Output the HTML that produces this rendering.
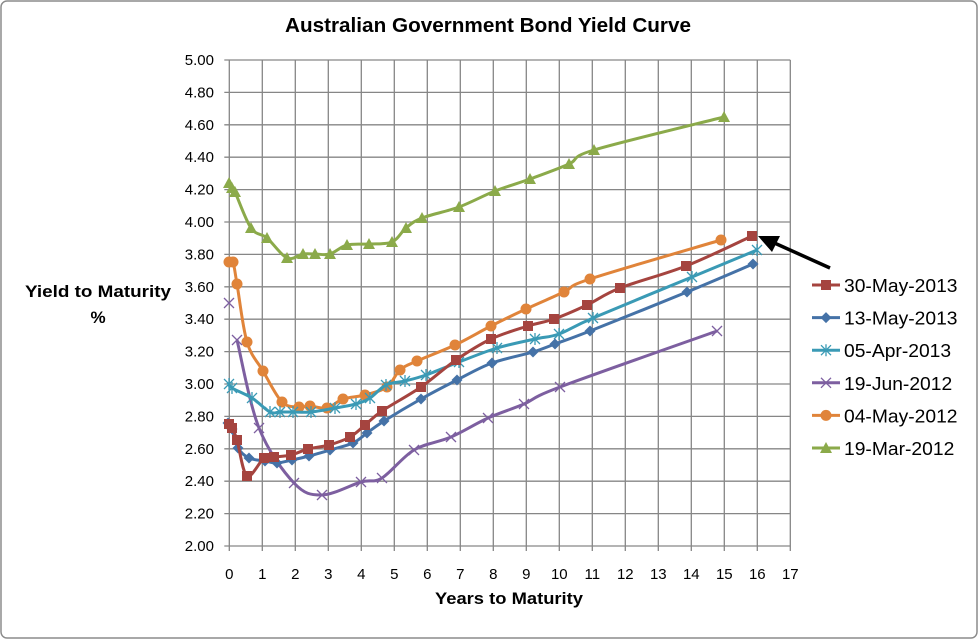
<!DOCTYPE html>
<html><head><meta charset="utf-8"><style>
body{margin:0;background:#fff;}
svg{display:block;font-family:"Liberation Sans",Arial,sans-serif;}
</style></head><body>
<svg id="s" width="979" height="640" viewBox="0 0 979 640" xmlns="http://www.w3.org/2000/svg">
<rect x="1" y="1" width="976" height="637" rx="6" fill="#fff" stroke="#8c8c8c" stroke-width="1.5"/>
<text x="488" y="32" text-anchor="middle" font-size="20" font-weight="bold" textLength="406" lengthAdjust="spacingAndGlyphs">Australian Government Bond Yield Curve</text>
<g id="grid"></g>
<g id="series"></g>
<text x="98" y="297" text-anchor="middle" font-size="17" font-weight="bold" textLength="146" lengthAdjust="spacingAndGlyphs">Yield to Maturity</text>
<text x="98" y="323" text-anchor="middle" font-size="17" font-weight="bold">%</text>
<text x="509" y="604" text-anchor="middle" font-size="17" font-weight="bold" textLength="148" lengthAdjust="spacingAndGlyphs">Years to Maturity</text>
<g id="legend"></g>
<line x1="830" y1="268" x2="770" y2="241" stroke="#000" stroke-width="3.5"/>
<polygon points="758,236 780,236 772,252" fill="#000"/>
</svg>
<script>
const NS="http://www.w3.org/2000/svg";
function el(t,a,p){const e=document.createElementNS(NS,t);for(const k in a)e.setAttribute(k,a[k]);p.appendChild(e);return e;}
const g=document.getElementById('grid');
const x0=229.3,dx=33,y0=546,dy=32.4;
for(let i=0;i<=17;i++){const x=x0+i*dx;el('line',{x1:x,y1:60,x2:x,y2:551,stroke:'#868686','stroke-width':1.3},g);
 const t=el('text',{x:x,y:579,'text-anchor':'middle','font-size':15},g);t.textContent=i;}
for(let j=0;j<=15;j++){const y=y0-j*dy;el('line',{x1:x0-5,y1:y,x2:x0+17*dx,y2:y,stroke:'#868686','stroke-width':1.3},g);
 const t=el('text',{x:214,y:y+5,'text-anchor':'end','font-size':15},g);t.textContent=(2+j*0.2).toFixed(2);}
const S=[
{n:'30-May-2013',c:'#A5443F',m:'sq',p:[[229,424],[232,428],[237,440],[247,476],[264,458],[274,457],[291,455],[308,449],[329,445],[350,437],[365,425],[382,411],[421,387],[456,360],[491,339],[528,326],[554,319],[587,305],[620,288],[686,266],[752,236]]},
{n:'13-May-2013',c:'#4572A7',m:'di',p:[[228,423],[232,429],[238,448],[249,458],[265,461],[277,463],[292,460],[309,456],[330,450],[353,443],[367,433],[384,421],[421,399],[457,380],[492,363],[533,352],[555,344],[590,331],[687,292],[753,264]]},
{n:'05-Apr-2013',c:'#3A9AB5',m:'as',p:[[229,384],[232,388],[252,398],[270,412],[280,412],[293,412],[311,412],[335,408],[356,404],[370,398],[386,385],[405,381],[426,375],[459,362],[497,348],[535,339],[559,334],[593,318],[692,277],[757,250]]},
{n:'19-Jun-2012',c:'#7D5FA0',m:'x',p:[[237,340],[259,428],[294,483],[322,495],[361,482],[382,478],[414,450],[451,437],[488,418],[524,404],[560,387],[717,331]],extra:[[229,303]]},
{n:'04-May-2012',c:'#E0843A',m:'ci',p:[[229,262],[233,262],[237,284],[247,342],[263,371],[282,402],[299,407],[310,406],[327,408],[343,399],[365,395],[387,387],[400,370],[417,361],[455,345],[491,326],[526,309],[564,292],[590,279],[721,240]]},
{n:'19-Mar-2012',c:'#8BAA4A',m:'tr',p:[[229,183],[232,188],[235,192],[251,228],[267,238],[287,258],[303,254],[315,254],[330,254],[347,245],[369,244],[392,242],[406,228],[422,218],[459,207],[495,191],[530,179],[569,164],[594,150],[724,117]]}
];
function path(p){let d='M'+p[0][0]+','+p[0][1];for(let i=0;i<p.length-1;i++){const a=p[Math.max(0,i-1)],b=p[i],c=p[i+1],e=p[Math.min(p.length-1,i+2)];const t=6;
 d+=` C${b[0]+(c[0]-a[0])/t},${b[1]+(c[1]-a[1])/t} ${c[0]-(e[0]-b[0])/t},${c[1]-(e[1]-b[1])/t} ${c[0]},${c[1]}`;}return d;}
function mk(m,x,y,c,par){
 if(m=='sq')el('rect',{x:x-5,y:y-5,width:10,height:10,fill:c},par);
 else if(m=='di')el('polygon',{points:`${x},${y-5.5} ${x+5.5},${y} ${x},${y+5.5} ${x-5.5},${y}`,fill:c},par);
 else if(m=='ci')el('circle',{cx:x,cy:y,r:5.5,fill:c},par);
 else if(m=='tr')el('polygon',{points:`${x},${y-6} ${x+6},${y+5} ${x-6},${y+5}`,fill:c},par);
 else if(m=='x'){el('path',{d:`M${x-5},${y-5}L${x+5},${y+5}M${x-5},${y+5}L${x+5},${y-5}`,stroke:c,'stroke-width':1.3},par);}
 else if(m=='as'){el('path',{d:`M${x-5},${y-5}L${x+5},${y+5}M${x-5},${y+5}L${x+5},${y-5}M${x},${y-6}L${x},${y+6}`,stroke:c,'stroke-width':1.3},par);}
}
const sg=document.getElementById('series'),lg=document.getElementById('legend');
S.slice().reverse().forEach(s=>{el('path',{d:path(s.p),fill:'none',stroke:s.c,'stroke-width':3},sg);
 s.p.forEach(q=>mk(s.m,q[0],q[1],s.c,sg));(s.extra||[]).forEach(q=>mk(s.m,q[0],q[1],s.c,sg));});
S.forEach((s,i)=>{const y=285+i*32.6;el('line',{x1:812,y1:y,x2:840,y2:y,stroke:s.c,'stroke-width':3},lg);mk(s.m,826,y,s.c,lg);
 const t=el('text',{x:844,y:y+7,'font-size':18},lg);t.textContent=s.n;
 const w=t.getComputedTextLength();t.setAttribute('textLength',(w*1.07).toFixed(1));t.setAttribute('lengthAdjust','spacingAndGlyphs');});
</script>
</body></html>
